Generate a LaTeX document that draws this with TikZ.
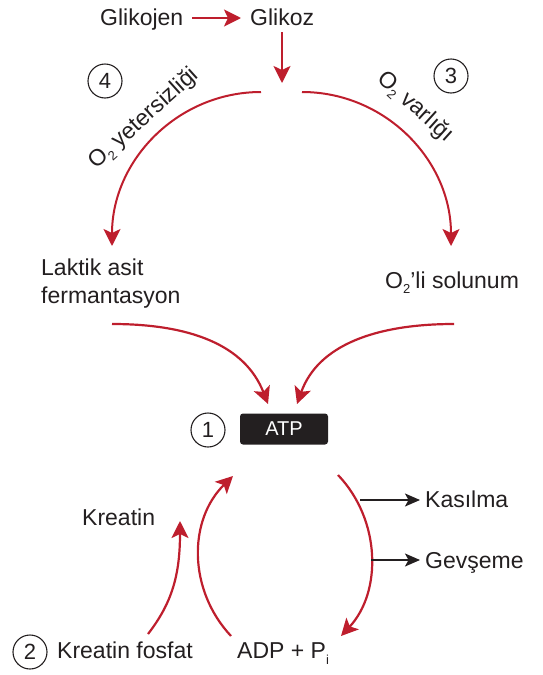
\documentclass[tikz,border=0pt]{standalone}
\usepackage{fontspec}
\setmainfont{Liberation Sans}
\usetikzlibrary{arrows.meta}
\definecolor{myred}{RGB}{190,30,45}
\definecolor{ink}{RGB}{35,31,32}
\newcommand{\subtwo}{{\fontsize{13}{13}\selectfont\raisebox{-5pt}{2}}}
\begin{document}
\begin{tikzpicture}[x=1pt,y=-1pt,
  lbl/.style={font=\fontsize{23}{27}\selectfont, text=ink, inner sep=0pt},
  num/.style={draw=ink, line width=1.1pt, circle, minimum size=34pt, inner sep=0pt, font=\fontsize{22}{22}\selectfont, text=ink},
  redarr/.style={draw=myred, line width=2.2pt, -{Stealth[length=17pt,width=17pt,inset=4pt]}},
  blackarr/.style={draw=ink, line width=1.4pt, -{Stealth[length=15pt,width=13pt,inset=3.5pt]}},
  atpbox/.style={fill=ink, rounded corners=3pt, minimum width=88pt, minimum height=31pt, inner sep=0pt, text=white, font=\fontsize{20}{20}\selectfont}
]
\useasboundingbox (0,0) rectangle (542,675);

% top labels
\node[lbl, anchor=base west] (glikojen) at (100,25) {Glikojen};
\node[lbl, anchor=base west] (glikoz) at (250,25) {Glikoz};
\coordinate (gj) at (192,18);
\coordinate (gz) at (241,18);
\draw[redarr, line width=2pt] (gj) -- (gz);
\coordinate (gtop) at (282,32);
\coordinate (gbot) at (282,83);
\draw[redarr, line width=2pt] (gtop) -- (gbot);

% top arcs
\coordinate (la) at (261,92);
\coordinate (lb) at (112,246);
\coordinate (ra) at (302,92);
\coordinate (rb) at (451,246);
\draw[redarr, line width=2pt] (la) .. controls (178,92) and (112,160) .. (lb);
\draw[redarr, line width=2pt] (ra) .. controls (385,92) and (451,160) .. (rb);

\node[num] (n4) at (105,81) {4};
\node[num] (n3) at (451,76) {3};

\node[lbl, rotate=42, anchor=base west] (o2y) at (96,170) {O\subtwo\ yetersizliği};
\node[lbl, rotate=-42, anchor=base west] (o2v) at (376,80) {O\subtwo\ varlığı};

% middle labels
\node[lbl, anchor=base west] (lak1) at (41,275) {Laktik asit};
\node[lbl, anchor=base west] (lak2) at (41,303) {fermantasyon};
\node[lbl, anchor=base west] (sol) at (385,288) {O\subtwo’li solunum};

% arrows to ATP
\coordinate (l1) at (112,324);
\coordinate (l2) at (268,404);
\coordinate (r1) at (454,324);
\coordinate (r2) at (297,404);
\draw[redarr] (l1) .. controls (190,324) and (245,345) .. (l2);
\draw[redarr] (r1) .. controls (376,324) and (318,345) .. (r2);

\node[atpbox] (atp) at (284,429) {ATP};
\node[num] (n1) at (208,430) {1};

% bottom cycle
\coordinate (c1) at (338,475);
\coordinate (c2) at (341,636);
\draw[redarr] (c1) .. controls (381,520) and (382,592) .. (c2);
\coordinate (d1) at (231,636);
\coordinate (d2) at (233,476);
\draw[redarr] (d1) .. controls (188,590) and (188,520) .. (d2);
\coordinate (k1) at (148,634);
\coordinate (k2) at (180,521);
\draw[redarr] (k1) .. controls (172,603) and (180,575) .. (k2);

\coordinate (ka) at (360,500);
\coordinate (ge) at (371,560);
\node[lbl, anchor=base west] (kas) at (425,507) {Kasılma};
\node[lbl, anchor=base west] (gev) at (425,568) {Gevşeme};
\coordinate (kae) at (420,500);
\coordinate (gee) at (420,560);
\draw[blackarr] (ka) -- (kae);
\draw[blackarr] (ge) -- (gee);

\node[lbl, anchor=base west] (kre) at (82,525) {Kreatin};
\node[lbl, anchor=base west] (kf) at (57,658) {Kreatin fosfat};
\node[lbl, anchor=base west] (adp) at (237,658) {ADP + P{\fontsize{13}{13}\selectfont\raisebox{-6pt}{i}}};
\node[num] (n2) at (30,652) {2};
\end{tikzpicture}
\end{document}
